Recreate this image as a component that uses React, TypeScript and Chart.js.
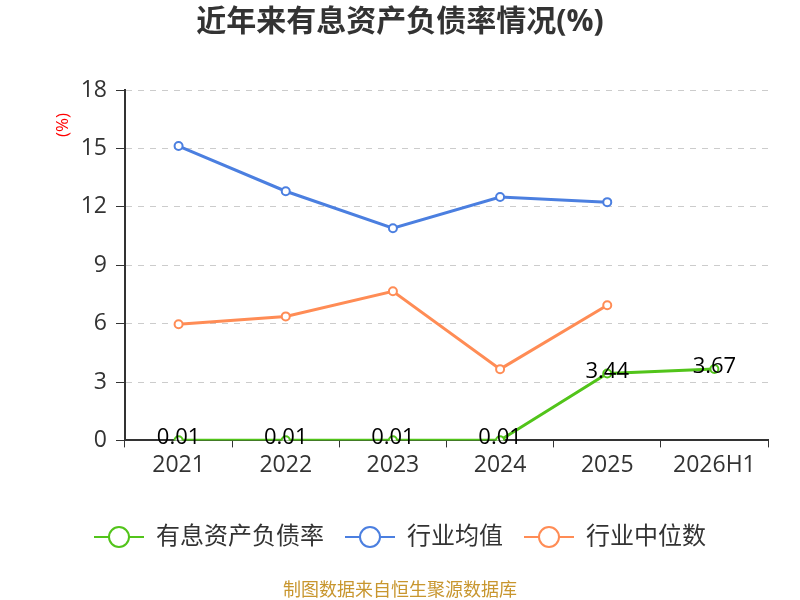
import { Chart, registerables } from 'chart.js'
import React, { useEffect, useRef } from 'react'

Chart.register(...registerables)

const categories = ['2021', '2022', '2023', '2024', '2025', '2026H1']
const debtRatio = [0.01, 0.01, 0.01, 0.01, 3.44, 3.67]
const industryAvg = [15.12, 12.8, 10.9, 12.5, 12.24, null]
const industryMedian = [5.97, 6.37, 7.66, 3.66, 6.94, null]
const seriesNames = ['有息资产负债率', '行业均值', '行业中位数']
const seriesColors = ['#52c41a', '#4b7fe0', '#ff8c55']

const FONT = '"Open Sans", "Noto Sans CJK SC", sans-serif'

function legendIcon(color: string): HTMLCanvasElement {
  const c = document.createElement('canvas')
  c.width = 50
  c.height = 24
  const ctx = c.getContext('2d')!
  ctx.strokeStyle = color
  ctx.lineWidth = 2
  ctx.beginPath()
  ctx.moveTo(0, 12)
  ctx.lineTo(50, 12)
  ctx.stroke()
  ctx.fillStyle = '#fff'
  ctx.beginPath()
  ctx.arc(25, 12, 10, 0, Math.PI * 2)
  ctx.fill()
  ctx.stroke()
  return c
}

// draws the value labels of the first series and the red "(%)" unit
const labelsPlugin = {
  id: 'valueLabels',
  afterDatasetsDraw(chart: Chart) {
    const ctx = chart.ctx
    const meta = chart.getDatasetMeta(0)
    ctx.save()
    ctx.font = `22px ${FONT}`
    ctx.fillStyle = '#000'
    ctx.textAlign = 'center'
    ctx.textBaseline = 'middle'
    meta.data.forEach((pt, i) => {
      ctx.fillText(String(debtRatio[i]), pt.x, pt.y - 2)
    })
    const area = chart.chartArea
    ctx.translate(area.left - 62, area.top + 35)
    ctx.rotate(-Math.PI / 2)
    ctx.font = `17px ${FONT}`
    ctx.fillStyle = '#ff0000'
    ctx.fillText('(%)', 0, 0)
    ctx.restore()
  }
}

const App: React.FC = () => {
  const canvasRef = useRef<HTMLCanvasElement | null>(null)
  const chartRef = useRef<Chart | null>(null)

  useEffect(() => {
    document.body.style.margin = '0'
    if (!canvasRef.current) return
    if (chartRef.current) chartRef.current.destroy()

    const values = [debtRatio, industryAvg, industryMedian]
    chartRef.current = new Chart(canvasRef.current, {
      type: 'line',
      data: {
        labels: categories,
        datasets: values.map((data, i) => ({
          label: seriesNames[i],
          data,
          borderColor: seriesColors[i],
          backgroundColor: '#fff',
          pointBorderColor: seriesColors[i],
          pointBackgroundColor: '#fff',
          pointStyle: 'circle',
          pointRadius: 4,
          pointBorderWidth: 2,
          borderWidth: 3,
          tension: 0
        }))
      },
      options: {
        animation: false,
        responsive: true,
        maintainAspectRatio: false,
        layout: { padding: { left: 32, right: 32 } },
        plugins: {
          title: {
            display: true,
            text: '近年来有息资产负债率情况(%)',
            color: '#333',
            font: { family: FONT, size: 30, weight: 'bold' },
            padding: { top: 4, bottom: 50 }
          },
          subtitle: {
            display: true,
            position: 'bottom',
            text: '制图数据来自恒生聚源数据库',
            color: '#c8962e',
            font: { family: FONT, size: 18, lineHeight: 1 },
            padding: { top: 23, bottom: 0 }
          },
          legend: {
            position: 'bottom',
            labels: {
              usePointStyle: true,
              pointStyleWidth: 50,
              color: '#333',
              font: { family: FONT, size: 24 },
              padding: 21,
              generateLabels: (chart: Chart) =>
                chart.data.datasets.map((ds, i) => ({
                  text: ds.label as string,
                  pointStyle: legendIcon(seriesColors[i]),
                  fillStyle: '#fff',
                  strokeStyle: seriesColors[i],
                  lineWidth: 0,
                  fontColor: '#333',
                  hidden: false,
                  datasetIndex: i
                }))
            }
          },
          tooltip: { enabled: false }
        },
        scales: {
          x: {
            offset: true,
            afterFit: (scale: any) => {
              scale.height += 21
            },
            grid: {
              drawOnChartArea: false,
              drawTicks: true,
              tickLength: 7,
              tickColor: '#333',
              offset: true
            },
            border: { color: '#333', width: 2 },
            ticks: { color: '#333', font: { family: FONT, size: 23 }, padding: 4 }
          },
          y: {
            min: 0,
            max: 18,
            afterFit: (scale: any) => {
              scale.width = 93
            },
            ticks: {
              stepSize: 3,
              color: '#333',
              font: { family: FONT, size: 23 },
              padding: 9
            },
            grid: {
              color: '#cccccc',
              tickBorderDash: [],
              tickColor: '#333',
              tickLength: 9
            } as any,
            border: { color: '#333', width: 2, dash: [6, 6] }
          }
        }
      },
      plugins: [labelsPlugin]
    })

    return () => {
      if (chartRef.current) chartRef.current.destroy()
    }
  }, [])

  return (
    <div style={{ width: 800, height: 600 }}>
      <canvas ref={canvasRef}></canvas>
    </div>
  )
}

export default App
